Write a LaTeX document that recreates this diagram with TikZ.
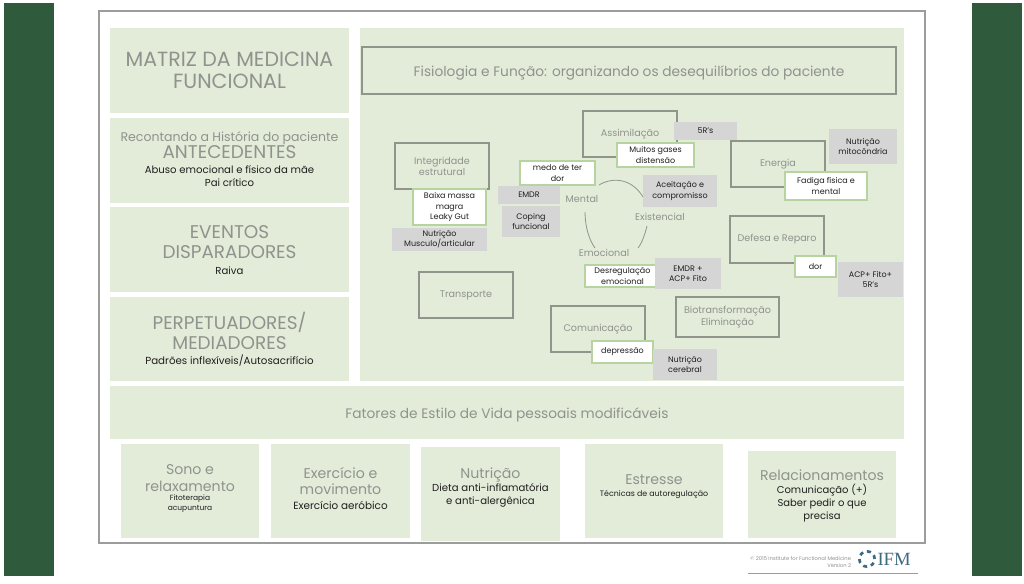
\documentclass[tikz,border=0pt]{standalone}
\usepackage{fontspec}
\setmainfont{Poppins}
\newfontfamily\ifmfont{Liberation Serif}
\definecolor{panelc}{HTML}{E3ECD9}
\definecolor{edgec}{HTML}{8F958B}
\definecolor{whedge}{HTML}{B7D3A0}
\definecolor{greyc}{HTML}{D5D5D5}
\definecolor{framec}{HTML}{9C9C9C}
\definecolor{darkc}{HTML}{2F5A3C}
\definecolor{softc}{HTML}{8F938D}
\definecolor{inkc}{HTML}{1F1F1F}
\definecolor{logoc}{HTML}{3E6A80}
\newcommand{\fz}[2]{\fontsize{#1pt}{#2pt}\selectfont}
\newcommand{\stk}[3]{\parbox{#1pt}{\centering #3\par\vskip#2pt\nointerlineskip\hbox{}}}
\newcommand{\bx}[7]{\node[#6,minimum width={(#4-#2)*0.75pt},minimum height={(#5-#3)*0.75pt}] (#1) at ({(#2+#4)/2},{(#3+#5)/2}) {#7};}
\tikzset{
  base/.style={inner sep=0pt,outer sep=0pt,align=center,text=softc},
  panel/.style={base,fill=panelc},
  framed/.style={base,draw=edgec,line width=0.95pt,font=\fz{7.2}{8.4}},
  whitebox/.style={base,fill=white,draw=whedge,line width=0.9pt,text=inkc,font=\fz{6}{7.7}},
  greybox/.style={base,fill=greyc,text=inkc,font=\fz{6}{7.7}},
  circlab/.style={base,font=\fz{7.2}{9}},
  ringarc/.style={draw=edgec,line width=0.6pt}
}
\begin{document}
\begin{tikzpicture}[x=0.75pt,y=-0.75pt]
\useasboundingbox (0,0) rectangle (1024,584);
\fill[white] (0,0) rectangle (1024,584);
\bx{barl}{3.5}{3.5}{54}{576}{base,fill=darkc}{}
\bx{barr}{972}{3.5}{1022}{576}{base,fill=darkc}{}
\bx{frame}{99}{11}{925}{543}{base,draw=framec,line width=1pt}{}
% left column
\bx{matriz}{110}{28}{349}{113}{panel,font=\fz{15.4}{16.6}}{MATRIZ DA MEDICINA\\FUNCIONAL}
\bx{antec}{110}{118}{349}{203}{panel}{\stk{178}{2}{\fz{9.4}{11}Recontando a História do paciente\par\fz{13.8}{12.8}ANTECEDENTES\par\vskip 1.4pt\color{inkc}\fz{7.6}{9.7}Abuso emocional e físico da mãe\\Pai crítico}}
\bx{event}{110}{207}{349}{292}{panel}{\stk{178}{-1}{\fz{13.8}{15}EVENTOS\\DISPARADORES\par\color{inkc}\fz{7.6}{12}Raiva}}
\bx{perp}{110}{297}{349}{381}{panel}{\stk{178}{0}{\fz{13.8}{15}PERPETUADORES/\\MEDIADORES\par\color{inkc}\fz{7.7}{11.5}Padrões inflexíveis/Autosacrifício}}
% big panel
\bx{big}{360}{28}{904}{381}{panel}{}
\bx{fisio}{362}{47}{896}{94}{framed,font=\fz{10.3}{13}}{\stk{390}{-3}{Fisiologia e Função: organizando os desequilíbrios do paciente}}
% functional boxes
\bx{integ}{395}{143}{489}{189}{framed}{Integridade\\estrutural}
\bx{assim}{583}{111}{677}{157}{framed}{Assimilação}
\bx{energ}{731}{141}{825}{187}{framed}{Energia}
\bx{defes}{730}{216}{824}{263}{framed}{Defesa e Reparo}
\bx{trans}{419}{272}{513}{318}{framed}{Transporte}
\bx{comun}{551}{306}{645}{352}{framed}{Comunicação}
\bx{biotr}{676}{297}{779}{337}{framed}{Biotransformação\\Eliminação}
% ring
\coordinate (ra) at (599,185);
\coordinate (rb) at (648,207);
\coordinate (rc) at (585,212);
\coordinate (rd) at (595,248);
\coordinate (re) at (647,226);
\coordinate (rf) at (638,248);
\draw[ringarc] (ra) .. controls (612,177) and (636,176) .. (rb);
\draw[ringarc] (rc) .. controls (585,226) and (589,240) .. (rd);
\draw[ringarc] (re) .. controls (645,234) and (642,243) .. (rf);
\node[circlab] (mental) at (582,199) {Mental};
\node[circlab] (exist) at (660,217) {Existencial};
\node[circlab] (emoc) at (604,253) {Emocional};
% white boxes
\bx{baixa}{413}{189}{486}{225}{whitebox}{Baixa massa\\magra\\Leaky Gut}
\bx{medo}{520}{161}{595}{185}{whitebox}{medo de ter\\dor}
\bx{muitos}{617}{143}{694}{167}{whitebox}{Muitos gases\\distensão}
\bx{fadiga}{785}{172}{867}{200}{whitebox}{Fadiga física e\\mental}
\bx{dorb}{795}{256}{836}{277}{whitebox}{dor}
\bx{desreg}{585}{265}{660}{287}{whitebox}{Desregulação\\emocional}
\bx{depre}{592}{341}{653}{363}{whitebox}{depressão}
% grey boxes
\bx{gnutm}{392}{228}{487}{251}{greybox}{Nutrição\\Musculo/articular}
\bx{gemdr}{498}{186}{560}{204}{greybox}{EMDR}
\bx{gcop}{502}{206}{560}{237}{greybox}{Coping\\funcional}
\bx{gfive}{674}{122}{737}{140}{greybox}{5R’s}
\bx{gacei}{643}{175}{717}{207}{greybox}{Aceitação e\\compromisso}
\bx{gmito}{829}{129}{897}{164}{greybox}{Nutrição\\mitocôndria}
\bx{gacp}{838}{262}{903}{297}{greybox}{ACP+ Fito+\\5R’s}
\bx{gemac}{655}{258}{721}{289}{greybox}{EMDR +\\ACP+ Fito}
\bx{gcere}{653}{349}{717}{380}{greybox}{Nutrição\\cerebral}
% lifestyle
\bx{fator}{110}{386}{904}{439}{panel,font=\fz{10.3}{12}}{\stk{500}{-3}{Fatores de Estilo de Vida pessoais modificáveis}}
\bx{sono}{121}{444}{259}{538}{panel}{\stk{100}{4}{\fz{10.6}{12.6}Sono e\\relaxamento\par\color{inkc}\fz{5.6}{7}Fitoterapia\\acupuntura}}
\bx{exer}{271}{444}{410}{538}{panel}{\stk{100}{4}{\fz{10.6}{12.6}Exercício e\\movimento\par\color{inkc}\fz{7.8}{11}Exercício aeróbico}}
\bx{nutr}{421}{447}{560}{541}{panel}{\stk{100}{10}{\fz{10.6}{12.6}Nutrição\par\color{inkc}\fz{7.6}{9.6}Dieta  anti-inflamatória\\e anti-alergênica}}
\bx{estr}{585}{444}{723}{538}{panel}{\stk{100}{6}{\fz{10.6}{12.6}Estresse\par\color{inkc}\fz{5.9}{9}Técnicas de autoregulação}}
\bx{rela}{748}{451}{896}{538}{panel}{\stk{108}{-2}{\fz{10.6}{12.6}Relacionamentos\par\color{inkc}\fz{7.5}{9.6}Comunicação (+)\\Saber pedir o que\\precisa}}
% footer
\node[base,font=\fz{3.9}{5.2},align=right,anchor=east,text=softc] (copy) at (851,562) {© 2015 Institute for Functional Medicine\\Version 2};
\node[base,circle,draw=logoc,dashed,line width=2pt,minimum size=11.5pt] (ring) at (867,559) {};
\node[base,anchor=west,text=logoc,font=\ifmfont\fz{14}{15}] (ifm) at (877.5,559) {IFM};
\coordinate (ruleL) at (748,573);
\coordinate (ruleR) at (918,573);
\draw[framec,line width=0.7pt] (ruleL) -- (ruleR);
\end{tikzpicture}
\end{document}
